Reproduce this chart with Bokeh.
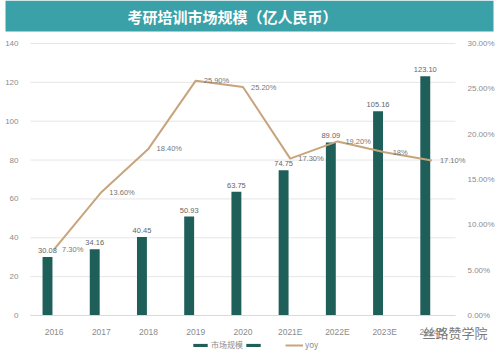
from bokeh.plotting import figure
from bokeh.models import (Range1d, LinearAxis, FixedTicker, PrintfTickFormatter,
                          ColumnDataSource, Legend, LegendItem, Label, BoxAnnotation)
from bokeh.transform import dodge
from bokeh.core.properties import value
from bokeh.embed import file_html
from bokeh.resources import INLINE

# ---- data ----
years = ["2016", "2017", "2018", "2019", "2020", "2021E", "2022E", "2023E", "2024E"]
market = [30.08, 34.16, 40.45, 50.93, 63.75, 74.75, 89.09, 105.16, 123.10]
market_labels = ["30.08", "34.16", "40.45", "50.93", "63.75", "74.75", "89.09", "105.16", "123.10"]
yoy = [7.30, 13.60, 18.40, 25.90, 25.20, 17.30, 19.20, 18.0, 17.10]
yoy_labels = ["7.30%", "13.60%", "18.40%", "25.90%", "25.20%", "17.30%", "19.20%", "18%", "17.10%"]
empty_series = [0, 0, 0, 0, 0, 0, 0, 0, 0]
left_ticks = [0, 20, 40, 60, 80, 100, 120, 140]
right_ticks = [0, 5, 10, 15, 20, 25, 30]
title_text = "考研培训市场规模（亿人民币）"
watermark = "丝路赞学院"

BAR = "#1f5f5a"
LINE = "#c8a47c"
TEAL = "#3ba1a8"
TICK = "#8c8c8c"
CJK = "Noto Sans CJK SC"

n = len(years)
idx = list(range(n))
src = ColumnDataSource(dict(idx=idx, years=years, market=market, market_labels=market_labels,
                            yoy=yoy, yoy_labels=yoy_labels, empty=empty_series))

# canvas layout (pixels): plot area 30..455 wide, value max at y=43, 0 at y=315
W, H = 500, 353
PL, PR, PT, P0 = 30, 455, 43, 315
ux = (PR - PL) / n
x_start = -0.5 - PL / ux
x_end = n - 0.5 + (W - PR) / ux
LMAX, RMAX = left_ticks[-1], right_ticks[-1]
uy = (P0 - PT) / LMAX
ury = (P0 - PT) / RMAX
y_range = Range1d(-(H - P0) / uy, LMAX + PT / uy)
yoy_range = Range1d(-(H - P0) / ury, RMAX + PT / ury)

p = figure(width=W, height=H, x_range=Range1d(x_start, x_end), y_range=y_range,
           output_backend="svg", toolbar_location=None, min_border=0)
p.outline_line_color = None
p.grid.visible = False
p.extra_y_ranges = {"yoy": yoy_range}

# grid lines over the plot area only
p.segment(x0=[-0.5] * len(left_ticks), x1=[n - 0.5] * len(left_ticks),
          y0=left_ticks, y1=left_ticks, line_color="#e6e6e6", line_width=1)

# left axis, fixed at the plot-area edge
yl = p.yaxis[0]
yl.fixed_location = -0.5
yl.ticker = FixedTicker(ticks=left_ticks)
yl.axis_line_color = None
yl.major_tick_line_color = None
yl.minor_tick_line_color = None
yl.major_label_standoff = 6
yl.major_label_text_color = TICK
yl.major_label_text_font = "Liberation Sans"
yl.major_label_text_font_size = "8px"

# right axis
yr = LinearAxis(y_range_name="yoy", ticker=FixedTicker(ticks=right_ticks),
                formatter=PrintfTickFormatter(format="%.2f%%"), fixed_location=n - 0.5)
yr.axis_line_color = None
yr.major_tick_line_color = None
yr.minor_tick_line_color = None
yr.major_label_standoff = 6
yr.major_label_text_color = TICK
yr.major_label_text_font = "Liberation Sans"
yr.major_label_text_font_size = "8px"
p.add_layout(yr, "right")

# category axis at value 0
xa = p.xaxis[0]
xa.fixed_location = 0
xa.bounds = (-0.5, n - 0.5)
xa.ticker = FixedTicker(ticks=idx)
xa.major_label_overrides = {i: y for i, y in zip(idx, years)}
xa.axis_line_color = "#d9d9d9"
xa.major_tick_line_color = None
xa.minor_tick_line_color = None
xa.major_label_standoff = 5
xa.major_label_text_color = TICK
xa.major_label_text_font = "Liberation Sans"
xa.major_label_text_font_size = "8.5px"

bars = p.vbar(x=dodge("idx", -0.14), top="market", width=0.21,
              source=src, color=BAR, line_color=None)
bars2 = p.vbar(x=dodge("idx", 0.14), top="empty", width=0.21,
               source=src, color=BAR, line_color=None)
line = p.line(x="idx", y="yoy", source=src, y_range_name="yoy", color=LINE, line_width=2)

p.text(x=dodge("idx", -0.14), y="market", text="market_labels", source=src,
       text_align="center", text_baseline="bottom", y_offset=-4,
       text_font=value("Liberation Sans"), text_font_size="7.5px", text_color="#666666")
p.text(x="idx", y="yoy", text="yoy_labels", source=src, y_range_name="yoy",
       text_align="left", text_baseline="middle", x_offset=8,
       text_font=value("Liberation Sans"), text_font_size="7.5px", text_color="#777777")

# title bar
p.add_layout(BoxAnnotation(left=5, right=493, top=0, bottom=31,
                           left_units="canvas", right_units="canvas",
                           top_units="canvas", bottom_units="canvas",
                           fill_color=TEAL, fill_alpha=1.0, line_color=None))
p.add_layout(Label(x=232, y=16, x_units="canvas", y_units="canvas", text=title_text,
                   text_color="white", text_font=CJK, text_font_size="15px",
                   text_font_style="bold", text_align="center", text_baseline="middle"))

legend = Legend(items=[LegendItem(label="市场规模", renderers=[bars]),
                       LegendItem(label=" ", renderers=[bars2]),
                       LegendItem(label="yoy", renderers=[line])],
                orientation="horizontal", location=(191, 3),
                glyph_width=18, glyph_height=4, label_standoff=2, spacing=1,
                padding=2, margin=0, border_line_color=None, background_fill_alpha=0,
                label_text_font=CJK, label_text_font_size="8px", label_text_color=TICK)
p.add_layout(legend)

p.add_layout(Label(x=422, y=332, x_units="canvas", y_units="canvas", text=watermark,
                   text_font=CJK, text_font_size="13px", text_color="#7a7a7a",
                   text_baseline="middle"))

open("out.html", "w").write(file_html(p, INLINE))
